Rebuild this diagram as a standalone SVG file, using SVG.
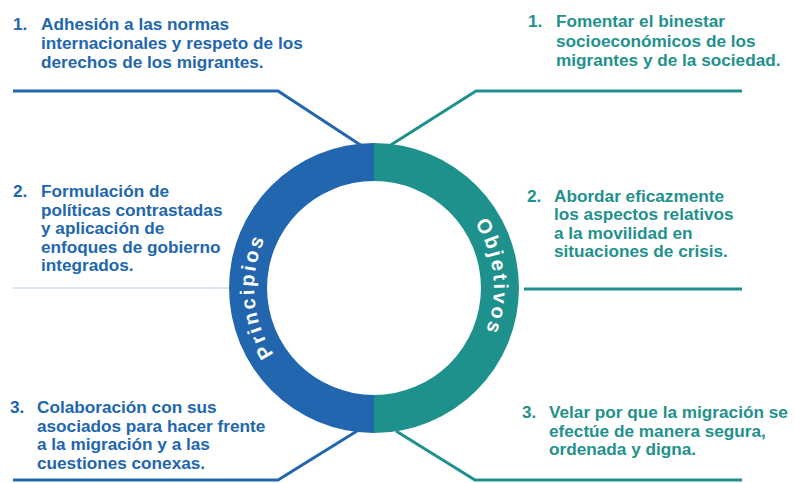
<svg xmlns="http://www.w3.org/2000/svg" width="794" height="483" viewBox="0 0 794 483">
<style>
.t{font-family:"Liberation Sans",Arial,sans-serif;font-weight:bold;font-size:17.2px}
.b{fill:#2166ae}
.g{fill:#1f918d}
.lb{fill:none;stroke:#2166ae;stroke-width:3}
.lg{fill:none;stroke:#1f918d;stroke-width:3}
.ring{font-family:"Liberation Sans",Arial,sans-serif;font-weight:bold;font-size:20px;fill:#fff;letter-spacing:2.6px}
</style>
<defs>
<path id="arcL" d="M314,391.9 A120,120 0 0 1 314,184.1"/>
<path id="arcR" d="M434,184.1 A120,120 0 0 1 434,391.9"/>
</defs>
<g id="connectors">
<polyline class="lb" points="13,91 278,91 362,146"/>
<polyline class="lg" points="742,91 476,91 386,148"/>
<line x1="13" y1="288" x2="232" y2="288" stroke="#b3cde8" stroke-width="1"/>
<line class="lg" x1="524" y1="289" x2="742" y2="289"/>
<polyline class="lb" points="13,480 278,480 357,431"/>
<polyline class="lg" points="742,480 475,480 396,431"/>
</g>
<g id="ring">
<path class="b" d="M374,143 A145,145 0 0 0 374,433 L374,395 A107,107 0 0 1 374,181 Z"/>
<path class="g" d="M374,143 A145,145 0 0 1 374,433 L374,395 A107,107 0 0 0 374,181 Z"/>
<text class="ring"><textPath href="#arcL" startOffset="46.5%" text-anchor="middle">Principios</textPath></text>
<text class="ring"><textPath href="#arcR" startOffset="45.5%" text-anchor="middle">Objetivos</textPath></text>
</g>
<g id="principio1" class="t b">
<text x="13" y="30">1.</text>
<text x="41" y="30">Adhesión a las normas</text>
<text x="41" y="49">internacionales y respeto de los</text>
<text x="41" y="68">derechos de los migrantes.</text>
</g>
<g id="principio2" class="t b">
<text x="13" y="197">2.</text>
<text x="41" y="197">Formulación de</text>
<text x="41" y="215.5">políticas contrastadas</text>
<text x="41" y="234">y aplicación de</text>
<text x="41" y="252.5">enfoques de gobierno</text>
<text x="41" y="271">integrados.</text>
</g>
<g id="principio3" class="t b">
<text x="10" y="413">3.</text>
<text x="37" y="413">Colaboración con sus</text>
<text x="37" y="431.7">asociados para hacer frente</text>
<text x="37" y="450.4">a la migración y a las</text>
<text x="37" y="469">cuestiones conexas.</text>
</g>
<g id="objetivo1" class="t g">
<text x="528" y="27">1.</text>
<text x="556" y="27">Fomentar el binestar</text>
<text x="556" y="46.5">socioeconómicos de los</text>
<text x="556" y="66">migrantes y de la sociedad.</text>
</g>
<g id="objetivo2" class="t g">
<text x="527" y="201.5">2.</text>
<text x="554" y="201.5">Abordar eficazmente</text>
<text x="554" y="220">los aspectos relativos</text>
<text x="554" y="238.5">a la movilidad en</text>
<text x="554" y="257">situaciones de crisis.</text>
</g>
<g id="objetivo3" class="t g">
<text x="522" y="417.5">3.</text>
<text x="549" y="417.5">Velar por que la migración se</text>
<text x="549" y="436.5">efectúe de manera segura,</text>
<text x="549" y="455">ordenada y digna.</text>
</g>
</svg>
